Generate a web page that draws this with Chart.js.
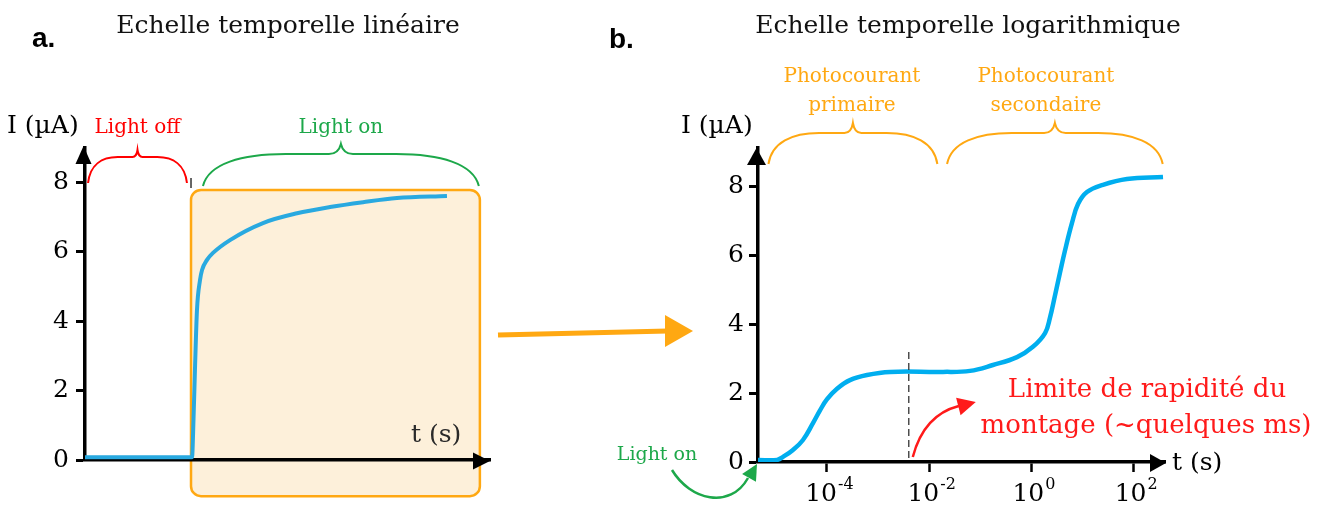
<!DOCTYPE html>
<html>
<head>
<meta charset="utf-8">
<script src="https://cdn.jsdelivr.net/npm/chart.js@4.4.1/dist/chart.umd.min.js"></script>
<style>
  html, body { margin: 0; padding: 0; background: #fff; }
  #wrap { position: relative; width: 1320px; height: 505px; overflow: hidden; }
  canvas { position: absolute; top: 0; }
  #c1 { left: 0; }
  #c2 { left: 600px; }
</style>
</head>
<body>
<div id="wrap">
  <canvas id="c1" width="720" height="505"></canvas>
  <canvas id="c2" width="720" height="505"></canvas>
</div>
<script>
// panel a : linear time scale (arbitrary seconds)
const linTime    = [0, 10.57, 10.72, 10.86, 11.06, 11.36, 11.56, 12.05, 12.64, 14.32, 17.58, 20.94, 24.2, 27.46, 30.81, 35.75];
const linCurrent = [0.08, 0.08, 1.2, 2.6, 4.32, 5.18, 5.47, 5.76, 5.96, 6.33, 6.82, 7.1, 7.28, 7.42, 7.54, 7.6];

// panel b : logarithmic time scale (s)
const logTime    = [4.5e-6, 1.06e-5, 1.39e-5, 2.17e-5, 3.41e-5, 5.35e-5, 7.34e-5, 1.0e-4, 1.58e-4, 2.83e-4, 6.1e-4, 1.72e-3,
                    0.0187, 0.063, 0.177, 0.524, 1.07, 1.85, 2.31, 2.9, 3.62, 4.54, 6.22, 8.16, 12.2, 25.1, 74, 375];
const logCurrent = [0.06, 0.06, 0.15, 0.35, 0.64, 1.13, 1.5, 1.82, 2.13, 2.38, 2.53, 2.62,
                    2.62, 2.65, 2.82, 3.05, 3.35, 3.75, 4.2, 4.85, 5.5, 6.15, 6.95, 7.5, 7.85, 8.06, 8.23, 8.29];

const yTicks = [0, 2, 4, 6, 8];
const logTicks = [1e-4, 1e-2, 1, 1e2];
const logTickExp = ['-4', '-2', '0', '2'];

const lightOnTime = 10.47;   // light switched on (panel a)
const setupLimit = 4e-3;     // ~ quelques ms (panel b)

const SERIF = '"DejaVu Serif", "Liberation Serif", serif';
const SANS = '"Liberation Sans", Arial, sans-serif';
const ORANGE = '#FFA812';
const GREEN = '#1DA84A';
const RED = '#FF1A1A';

function arrowHead(ctx, x, y, angle, len, half, color) {
  ctx.save();
  ctx.translate(x, y);
  ctx.rotate(angle);
  ctx.beginPath();
  ctx.moveTo(0, 0);
  ctx.lineTo(-len, -half);
  ctx.lineTo(-len, half);
  ctx.closePath();
  ctx.fillStyle = color;
  ctx.fill();
  ctx.restore();
}

function brace(ctx, x1, x2, yb, h, c, color) {
  const w = (x2 - x1) / 2, xm = x1 + w, yt = yb - h, k = Math.min(w * 0.1, 12);
  ctx.save();
  ctx.strokeStyle = color;
  ctx.lineWidth = 2;
  ctx.beginPath();
  ctx.moveTo(x1, yb);
  ctx.bezierCurveTo(x1 + w * 0.04, yt + h * 0.3, x1 + w * 0.28, yt, x1 + w * 0.6, yt);
  ctx.lineTo(xm - k, yt);
  ctx.quadraticCurveTo(xm - k * 0.2, yt, xm, yt - c);
  ctx.quadraticCurveTo(xm + k * 0.2, yt, xm + k, yt);
  ctx.lineTo(x2 - w * 0.6, yt);
  ctx.bezierCurveTo(x2 - w * 0.28, yt, x2 - w * 0.04, yt + h * 0.3, x2, yb);
  ctx.stroke();
  ctx.restore();
}

function label(ctx, s, x, y, font, color, align) {
  ctx.save();
  ctx.font = font;
  ctx.fillStyle = color;
  ctx.textAlign = align || 'center';
  ctx.textBaseline = 'alphabetic';
  ctx.fillText(s, x, y);
  ctx.restore();
}

const leftDeco = {
  id: 'leftDeco',
  beforeDraw(chart) {
    const { ctx, scales: { x, y } } = chart;
    const bx1 = x.getPixelForValue(lightOnTime), bx2 = x.getPixelForValue(39.0);
    const by1 = y.getPixelForValue(7.77), by2 = y.getPixelForValue(-1.04);
    ctx.save();
    ctx.beginPath();
    ctx.roundRect(bx1, by1, bx2 - bx1, by2 - by1, 10);
    ctx.fillStyle = '#FDF0DA';
    ctx.fill();
    ctx.lineWidth = 2.5;
    ctx.strokeStyle = ORANGE;
    ctx.stroke();
    ctx.restore();
  },
  afterDraw(chart) {
    const { ctx, chartArea: a, scales: { x, y } } = chart;
    const y0 = y.getPixelForValue(0);
    arrowHead(ctx, a.left - 1.5, a.top - 2, -Math.PI / 2, 18, 8, '#000');
    arrowHead(ctx, a.right, y0 + 1, 0, 17, 8.5, '#000');

    label(ctx, 'Echelle temporelle linéaire', 288, 33, '25px ' + SERIF, '#111');
    label(ctx, 'a.', 32, 47, 'bold 28px ' + SANS, '#000', 'left');
    label(ctx, 'I (µA)', 7, 133, '25px ' + SERIF, '#000', 'left');
    label(ctx, 't (s)', 411, 442, '25px ' + SERIF, '#2a2a2a', 'left');

    // light off / light on braces
    const r1 = x.getPixelForValue(0.3), r2 = x.getPixelForValue(10.07);
    brace(ctx, r1, r2, 183, 26, 7, '#FF0000');
    label(ctx, 'Light off', (r1 + r2) / 2, 133, '20px ' + SERIF, '#FF0000');
    const g1 = x.getPixelForValue(11.65), g2 = x.getPixelForValue(38.9);
    brace(ctx, g1, g2, 186, 32, 10, GREEN);
    label(ctx, 'Light on', (g1 + g2) / 2, 133, '20px ' + SERIF, GREEN);

    // switch mark
    const sx = x.getPixelForValue(lightOnTime);
    ctx.save();
    ctx.strokeStyle = '#000';
    ctx.lineWidth = 1.2;
    ctx.beginPath();
    ctx.moveTo(sx, 178);
    ctx.lineTo(sx, 188);
    ctx.stroke();
    ctx.restore();

    // big orange arrow towards panel b
    ctx.save();
    ctx.strokeStyle = ORANGE;
    ctx.lineWidth = 5;
    ctx.beginPath();
    ctx.moveTo(498, 335);
    ctx.lineTo(668, 331);
    ctx.stroke();
    ctx.restore();
    arrowHead(ctx, 693, 331, 0, 28, 16, ORANGE);
  }
};

const rightDeco = {
  id: 'rightDeco',
  afterDraw(chart) {
    const { ctx, chartArea: a, scales: { x, y } } = chart;
    const y0 = y.getPixelForValue(0);
    arrowHead(ctx, a.left - 1.5, a.top, -Math.PI / 2, 17, 9.5, '#000');
    arrowHead(ctx, a.right + 1, y0 + 1, 0, 16, 9, '#000');

    label(ctx, 'Echelle temporelle logarithmique', 368, 33, '25px ' + SERIF, '#111');
    label(ctx, 'b.', 9, 48, 'bold 28px ' + SANS, '#000', 'left');
    label(ctx, 'I (µA)', 81, 133, '25px ' + SERIF, '#000', 'left');
    label(ctx, 't (s)', 572, 470, '25px ' + SERIF, '#000', 'left');

    // tick labels 10^n
    logTicks.forEach((v, i) => {
      const px = x.getPixelForValue(v);
      ctx.save();
      ctx.font = '25px ' + SERIF;
      const w1 = ctx.measureText('10').width;
      ctx.font = '16px ' + SERIF;
      const w2 = ctx.measureText(logTickExp[i]).width;
      const x0 = px - (w1 + w2) / 2 + 2;
      ctx.restore();
      label(ctx, '10', x0, 501, '25px ' + SERIF, '#000', 'left');
      label(ctx, logTickExp[i], x0 + w1 + 1, 489, '16px ' + SERIF, '#000', 'left');
    });

    // regime braces
    const p1 = x.getPixelForValue(7.2e-6), p2 = x.getPixelForValue(0.0145);
    const q1 = x.getPixelForValue(0.0224), q2 = x.getPixelForValue(370);
    brace(ctx, p1, p2, 164, 31, 10, ORANGE);
    brace(ctx, q1, q2, 164, 31, 10, ORANGE);
    label(ctx, 'Photocourant', (p1 + p2) / 2 - 1, 82, '20px ' + SERIF, ORANGE);
    label(ctx, 'primaire', (p1 + p2) / 2 - 1, 111, '20px ' + SERIF, ORANGE);
    label(ctx, 'Photocourant', (q1 + q2) / 2 - 9, 82, '20px ' + SERIF, ORANGE);
    label(ctx, 'secondaire', (q1 + q2) / 2 - 9, 111, '20px ' + SERIF, ORANGE);

    // setup speed limit
    const dx = x.getPixelForValue(setupLimit);
    ctx.save();
    ctx.strokeStyle = '#333';
    ctx.lineWidth = 1.3;
    ctx.setLineDash([7, 4]);
    ctx.beginPath();
    ctx.moveTo(dx, y.getPixelForValue(3.2));
    ctx.lineTo(dx, y0);
    ctx.stroke();
    ctx.restore();

    ctx.save();
    ctx.strokeStyle = RED;
    ctx.lineWidth = 2.5;
    ctx.beginPath();
    ctx.moveTo(dx + 4, 457);
    ctx.quadraticCurveTo(dx + 15, 415, dx + 50, 406);
    ctx.stroke();
    ctx.restore();
    arrowHead(ctx, dx + 67, 402, -0.25, 18, 9, RED);
    label(ctx, 'Limite de rapidité du', 547, 397, '26px ' + SERIF, RED);
    label(ctx, 'montage (~quelques ms)', 546, 433, '26px ' + SERIF, RED);

    // light on marker
    label(ctx, 'Light on', 57, 460, '19px ' + SERIF, GREEN);
    ctx.save();
    ctx.strokeStyle = GREEN;
    ctx.lineWidth = 2.5;
    ctx.beginPath();
    ctx.moveTo(72, 470);
    ctx.bezierCurveTo(90, 500, 130, 510, 148, 478);
    ctx.stroke();
    ctx.restore();
    arrowHead(ctx, 157, 464, -1.05, 16, 8, GREEN);
  }
};

const axisY = (width, padding) => ({
  min: 0,
  afterBuildTicks: s => { s.ticks = yTicks.map(v => ({ value: v })); },
  afterFit: s => { s.width = width; },
  ticks: { color: '#000', font: { family: SERIF, size: 25 }, padding: padding },
  grid: { drawOnChartArea: false, color: '#000', tickLength: 9, tickWidth: 3 },
  border: { color: '#000', width: 3.5 }
});

new Chart(document.getElementById('c1'), {
  type: 'line',
  data: {
    datasets: [{
      data: linTime.map((t, i) => ({ x: t, y: linCurrent[i] })),
      borderColor: '#29A9E0',
      borderWidth: 4,
      pointRadius: 0,
      cubicInterpolationMode: 'monotone',
      fill: false
    }]
  },
  options: {
    responsive: false,
    animation: false,
    events: [],
    layout: { padding: { left: 0, top: 148, right: 230, bottom: 45 } },
    plugins: { legend: { display: false }, tooltip: { enabled: false } },
    scales: {
      x: {
        type: 'linear', min: 0, max: 40,
        ticks: { display: false },
        grid: { display: false },
        border: { color: '#000', width: 3.5 },
        afterFit: s => { s.height = 0; }
      },
      y: Object.assign(axisY(85, 7), { max: 8.98 })
    }
  },
  plugins: [leftDeco]
});

new Chart(document.getElementById('c2'), {
  type: 'line',
  data: {
    datasets: [{
      data: logTime.map((t, i) => ({ x: t, y: logCurrent[i] })),
      borderColor: '#00AEEF',
      borderWidth: 4.5,
      pointRadius: 0,
      tension: 0.4,
      fill: false
    }]
  },
  options: {
    responsive: false,
    animation: false,
    events: [],
    layout: { padding: { left: 0, top: 148, right: 155, bottom: 43 } },
    plugins: { legend: { display: false }, tooltip: { enabled: false } },
    scales: {
      x: {
        type: 'logarithmic', min: 4.5e-6, max: 410,
        afterBuildTicks: s => { s.ticks = logTicks.map(v => ({ value: v })); },
        ticks: { display: false },
        grid: { drawOnChartArea: false, color: '#000', tickLength: 10, tickWidth: 2.5 },
        border: { color: '#000', width: 3.5 },
        afterFit: s => { s.height = 0; }
      },
      y: Object.assign(axisY(158, 5), { max: 9.13 })
    }
  },
  plugins: [rightDeco]
});
</script>
</body>
</html>
